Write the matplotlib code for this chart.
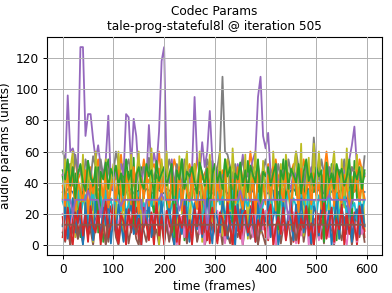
import numpy as np
import matplotlib
matplotlib.use("Agg")
import matplotlib.pyplot as plt

title = "Codec Params\ntale-prog-stateful8l @ iteration 505"
xlabel = "time (frames)"
ylabel = "audio params (units)"
frame_step = 5

blue1 = [34,33,36,35,34,30,36,34,33,35,36,34,22,35,36,33,34,35,30,36,
         35,34,33,36,28,34,35,36,33,34,35,20,34,36,35,33,34,38,35,34,
         33,36,35,34,30,35,36,34,42,35,33,34,36,35,34,25,35,36,34,33,
         35,36,34,40,35,33,34,36,35,30,34,35,36,34,33,35,44,34,36,35,
         34,33,36,35,22,34,35,36,34,33,35,36,34,35,40,34,33,36,35,34,
         46,35,34,33,50,36,34,35,33,34,36,35,28,34,35,36,34,33,35,34]
orange1 = [45,40,50,38,48,55,42,46,52,40,44,50,38,46,55,42,48,40,52,45,
           50,42,46,58,40,48,44,52,38,46,50,42,55,44,40,48,52,46,60,42,
           46,50,40,44,55,48,42,38,50,46,52,44,40,56,48,42,46,50,38,44,
           52,46,42,48,40,55,50,44,38,46,52,42,48,44,60,46,40,50,42,48,
           45,52,40,46,55,42,48,38,50,44,46,52,40,48,42,55,46,50,44,40,
           48,52,42,46,60,44,50,40,48,42,46,52,38,44,50,46,42,55,48,44]
green1 = [44,30,10,52,38,46,25,5,48,35,54,20,42,33,50,28,2,45,55,36,
          48,26,40,15,52,34,47,22,56,8,38,50,30,46,54,30,20,45,36,52,
          44,28,12,50,40,24,47,55,3,38,45,30,52,25,46,36,18,47,10,54,
          32,48,40,22,55,18,44,34,50,26,48,6,38,54,30,45,20,46,22,52,
          36,44,28,50,47,4,40,55,24,46,14,50,32,47,38,26,53,9,45,34,
          42,55,30,28,46,20,52,40,3,48,36,25,50,44,16,54,30,45,38,46]
red1 = [5,22,12,0,18,25,8,15,2,20,24,10,3,16,22,6,19,1,14,25,
        9,17,4,23,12,0,20,8,15,24,3,18,11,22,6,14,0,25,10,19,
        2,16,23,7,13,21,0,18,9,24,5,15,20,3,12,25,8,17,1,22,
        14,6,19,24,2,11,16,0,21,9,23,4,18,13,25,7,15,1,20,10,
        22,3,17,12,0,24,8,19,5,14,21,2,16,25,9,11,23,6,18,0,
        13,20,4,22,15,7,24,1,17,10,19,3,25,12,8,21,0,16,23,5]
purple1 = [45,50,96,60,62,55,50,127,127,70,84,84,68,55,64,50,45,55,83,40,
           35,48,40,52,45,84,82,50,81,70,45,38,50,42,77,48,59,50,73,118,
           127,45,40,55,35,48,42,38,50,44,40,48,95,55,45,66,50,60,86,55,
           40,48,36,45,42,50,38,44,40,52,45,58,42,38,48,55,60,95,108,70,
           62,72,45,40,52,38,45,42,50,40,36,48,44,40,52,45,38,42,50,44,
           40,48,38,45,42,50,40,36,46,42,38,48,44,55,64,76,50,42,48,45]
brown1 = [8,2,15,0,11,19,4,13,1,17,6,10,0,14,20,3,9,16,2,12,
          18,5,0,13,7,19,1,11,15,4,0,17,9,2,14,20,6,10,0,16,
          3,12,19,7,0,15,5,18,10,1,13,8,20,2,11,17,0,6,14,9,
          19,3,12,0,16,7,1,18,10,5,15,0,13,20,4,8,17,2,11,6,
          0,14,19,3,9,16,1,12,7,18,0,10,15,5,20,2,13,8,0,17,
          11,4,16,1,19,6,12,0,14,9,3,18,7,15,0,10,20,5,13,2]
pink1 = [20,20,14,14,21,21,20,12,12,20,21,21,14,14,20,20,13,21,21,20,
         20,14,14,21,20,20,12,12,21,20,20,14,21,21,13,13,20,20,21,14,
         8,22,3,15,20,0,12,18,5,21,10,2,16,20,7,13,0,19,11,4,
         17,22,6,14,1,20,9,15,3,18,12,0,21,8,16,5,19,2,13,10,
         22,4,17,11,0,20,7,14,3,18,9,21,1,15,6,12,19,0,16,8,
         20,3,13,10,22,5,17,1,14,9,21,6,0,18,11,15,2,20,7,12]
grey1 = [60,55,48,52,40,58,45,50,35,55,48,42,57,50,38,55,44,52,48,40,
         46,60,52,45,38,50,55,42,48,36,54,45,50,40,56,48,42,52,45,38,
         50,44,55,48,40,52,46,38,55,42,48,50,44,36,52,46,40,55,48,42,
         45,50,60,108,60,58,50,44,52,40,48,55,42,46,38,50,45,52,40,48,
         55,42,46,50,38,52,44,48,40,55,46,42,60,50,48,38,52,45,40,69,
         48,42,55,46,38,50,44,52,40,48,45,55,42,38,50,46,52,44,40,57]
olive1 = [30,55,10,48,60,5,42,25,58,15,50,35,2,60,20,45,8,55,28,40,
          52,12,60,38,3,47,22,58,16,44,60,7,35,50,18,62,26,42,0,55,
          38,60,14,48,30,5,57,20,45,60,10,36,52,24,60,2,44,32,58,15,
          48,28,60,6,40,55,18,62,34,12,50,26,58,4,46,38,60,20,8,54,
          30,44,16,60,36,2,52,24,58,42,10,48,60,22,65,6,38,56,14,65,
          28,60,40,8,52,18,46,60,32,4,55,24,62,12,44,36,58,20,50,10]
cyan1 = [28,22,33,18,30,25,35,20,27,32,16,29,34,21,26,31,19,35,24,30,
         17,33,28,22,35,20,26,31,18,29,34,23,27,16,32,25,35,19,30,22,
         28,34,17,26,31,21,35,24,29,18,33,27,20,32,25,15,30,35,22,28,
         19,34,26,31,17,29,23,35,20,27,32,16,30,25,34,21,28,33,18,26,
         31,22,35,19,29,24,32,17,27,34,20,30,25,16,33,28,21,35,23,29,
         18,32,26,30,22,35,17,28,33,20,25,31,19,34,24,27,16,30,22,29]
blue2 = [12,25,4,18,30,8,22,15,0,27,10,20,3,28,16,6,24,13,30,1,
         19,9,26,14,2,23,17,29,7,11,25,0,20,13,28,5,16,22,9,30,
         3,18,26,11,0,24,14,7,29,20,2,15,27,10,22,5,18,30,12,1,
         25,16,8,28,19,4,21,13,0,26,10,30,17,6,23,14,2,27,9,20,
         15,29,5,18,24,0,12,28,7,21,16,3,26,11,30,8,19,14,1,25,
         20,6,27,13,9,22,0,17,29,4,24,15,10,28,2,18,23,7,26,12]
orange2 = [38,25,45,30,50,22,42,35,28,48,20,40,33,46,26,44,30,50,24,36,
           42,28,48,32,22,45,38,26,50,34,20,43,30,47,25,40,36,21,49,29,
           44,32,24,46,38,27,50,22,41,34,28,47,30,23,45,36,26,49,33,40,
           21,44,29,38,48,25,35,42,27,50,31,23,46,37,28,43,20,48,34,39,
           26,45,30,50,22,41,36,28,47,33,24,44,38,21,49,30,35,42,26,46,
           32,40,23,48,29,37,44,25,50,31,27,45,36,22,42,34,48,28,39,30]
green2 = [48,42,55,38,50,30,46,52,40,35,54,44,38,50,8,47,42,53,36,49,
          44,51,38,46,32,55,42,48,12,45,50,40,36,52,44,48,30,54,41,46,
          50,38,45,52,5,48,42,55,36,47,44,50,40,33,53,46,38,49,20,45,
          52,40,47,36,55,44,50,15,46,42,53,38,48,34,51,45,40,55,28,47,
          44,50,38,46,52,10,48,42,54,36,49,45,40,52,33,47,55,41,46,38,
          50,44,48,2,53,40,46,36,52,45,49,38,44,55,30,47,42,50,36,48]
red2 = [18,3,24,10,0,21,14,27,6,19,2,25,12,8,22,0,16,28,5,13,
        26,9,1,20,15,4,23,11,28,7,17,0,24,13,3,21,10,27,6,18,
        0,22,14,8,26,2,19,11,25,5,16,0,23,12,28,7,20,3,15,24,
        9,1,21,17,6,27,11,0,25,14,4,19,22,8,13,28,2,16,10,23,
        5,20,26,0,12,18,7,24,3,15,28,9,21,1,17,11,25,6,14,0,
        22,8,19,27,4,13,24,2,16,10,26,0,20,7,18,12,3,25,15,9]
purple2 = [29,29,29,29,20,29,29,29,29,29,35,29,29,29,29,18,29,29,29,29,
           29,29,29,25,29,29,29,29,29,29,29,29,14,29,29,29,29,29,29,33,
           29,29,29,29,29,29,22,29,29,29,29,29,29,29,29,29,29,10,29,29,
           29,29,29,29,29,29,29,29,29,29,35,29,29,29,29,29,29,29,24,29,
           29,29,29,29,29,29,29,29,29,16,29,29,29,29,29,29,29,29,29,29,
           29,29,29,29,29,32,29,29,29,29,29,29,29,20,29,29,29,29,29,29]
brown2 = [13,13,13,13,13,13,4,13,13,13,13,13,13,13,13,13,13,0,13,13,
          13,13,13,13,13,13,13,13,13,8,13,13,13,13,13,13,13,13,13,13,
          13,13,2,13,13,13,13,13,13,13,13,13,13,13,13,13,13,13,13,13,
          13,13,13,13,13,6,13,13,13,13,13,13,13,13,13,13,13,0,13,13,
          13,13,13,13,13,13,13,13,13,13,13,13,3,13,13,13,13,13,13,13,
          13,13,13,13,13,13,13,13,13,13,13,13,13,13,13,13,13,13,13,13]

series = [blue1, orange1, green1, red1, purple1, brown1, pink1, grey1, olive1, cyan1,
          blue2, orange2, green2, red2, purple2, brown2]

fs = 8.7
fig = plt.figure(figsize=(3.92, 2.93), dpi=100)
ax = fig.add_axes([0.121, 0.130, 0.853, 0.743])
for s in series:
    frames = np.arange(len(s)) * frame_step
    ax.plot(frames, s, linewidth=1.3)
ax.set_xlim(-30, 629)
ax.set_ylim(-6.35, 133.35)
ax.set_xticks([0, 100, 200, 300, 400, 500, 600])
ax.set_yticks([0, 20, 40, 60, 80, 100, 120])
ax.grid(True, color="#b0b0b0", linewidth=0.7)
ax.set_axisbelow(False)
ax.set_title(title, fontsize=fs, pad=5)
ax.set_xlabel(xlabel, fontsize=fs, labelpad=3)
ax.set_ylabel(ylabel, fontsize=fs, labelpad=3)
ax.tick_params(labelsize=fs, length=3, width=0.7, pad=3)
for sp in ax.spines.values():
    sp.set_linewidth(0.8)
fig.savefig("out.png", dpi=100)
